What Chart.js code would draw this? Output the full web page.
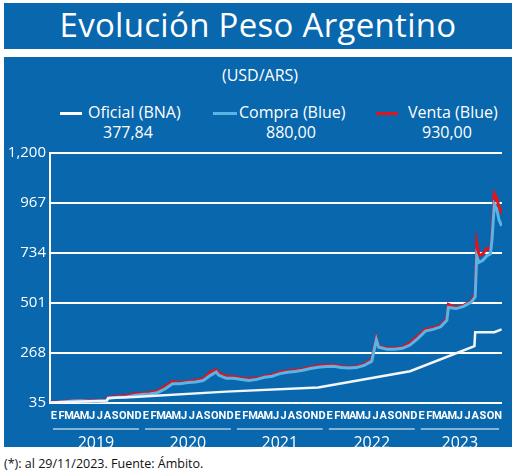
<!DOCTYPE html>
<html><head><meta charset="utf-8">
<script src="https://cdn.jsdelivr.net/npm/chart.js@4"></script>
<style>
body{margin:0;width:520px;height:475px;background:#fff;font-family:"Open Sans",sans-serif;position:relative;overflow:hidden}
#title{position:absolute;left:4px;top:3px;width:508px;height:46px;background:#0867ad;color:#fff;font-size:33px;text-align:center;line-height:44px;font-family:"Open Sans";letter-spacing:0.3px}
#panel{position:absolute;left:4px;top:57px;width:508px;height:390px;background:#0867ad}
.t{position:absolute;color:#fff;font-size:16px;white-space:nowrap}
#foot{position:absolute;left:4px;top:455px;font-size:12.5px;color:#111;font-family:"Open Sans"}
#c{position:absolute;left:4px;top:140px}
</style></head><body>
<div id="title">Evolución Peso Argentino</div>
<div id="panel"></div>
<div class="t" style="left:0;width:520px;text-align:center;top:64px">(USD/ARS)</div>
<div class="t" style="left:60px;top:101px"><span style="display:inline-block;width:22px;height:3px;background:#fff;vertical-align:middle;margin-right:6px"></span>Oficial (BNA)</div>
<div class="t" style="left:103px;top:121px">377,84</div>
<div class="t" style="left:213px;top:101px"><span style="display:inline-block;width:24px;height:3px;background:#5ab4e6;vertical-align:middle;margin-right:2px"></span>Compra (Blue)</div>
<div class="t" style="left:266px;top:121px">880,00</div>
<div class="t" style="left:376px;top:101px"><span style="display:inline-block;width:22px;height:3px;background:#e3121b;vertical-align:middle;margin-right:10px"></span>Venta (Blue)</div>
<div class="t" style="left:422px;top:121px">930,00</div>
<div id="foot">(*): al 29/11/2023. Fuente: Ámbito.</div>
<canvas id="c" width="508" height="307"></canvas>
<script>
const monthLabels=["E","F","M","A","M","J","J","A","S","O","N","D"];
const years=["2019","2020","2021","2022","2023"];
const yTicks=[35,268,501,734,967,1200];
// x = months since Jan 2019
const blueX=[0,1,2,3,4,5,6,7.4,7.6,8,9,10,11,12,13,14,15,16,17,18,19,20,21,21.7,22,23,24,25,26,27,28,29,30,31,32,33,34,35,36,37,38,39,40,41,42,42.6,42.9,43.5,44,45,46,47,48,49,50,51,51.8,52,53,54,55,55.5,55.7,56,56.5,57,57.5,57.7,58,58.3,58.6,58.95];
const compra=[37,38,41,44,45,43,43,45,55,58,62,63,70,75,77,83,100,125,125,130,133,140,165,180,165,150,150,145,140,145,155,160,172,178,182,188,196,202,205,206,200,198,200,210,230,330,295,290,285,285,290,305,335,370,378,390,420,480,475,485,505,530,720,690,700,720,730,800,960,940,890,860,880];
const venta=[38,39,43,46,47,45,45,48,60,63,67,70,77,80,84,90,112,135,130,136,140,148,180,190,175,160,158,150,148,150,160,166,178,184,188,194,202,208,212,212,205,202,205,215,240,338,300,295,290,290,295,315,345,378,385,395,430,495,480,490,510,545,780,720,730,755,750,820,1010,990,950,920,930];
const oficialX=[0,7.4,7.6,11,23,35,47,55.4,55.5,58,58.95];
const oficial=[37,46,58,63,88,107,183,300,365,365,378];
const toPts=(xs,ys)=>xs.map((x,i)=>({x,y:ys[i]}));
const labelsPlugin={id:'lbl',afterDraw(ch){
 const c=ch.ctx,xs=ch.scales.x,top=ch.chartArea.bottom;
 c.save();c.fillStyle='#fff';c.textAlign='center';c.textBaseline='middle';
 c.font='bold 11px "Liberation Sans Narrow","Roboto",sans-serif';
 for(let i=0;i<59;i++){c.fillText(monthLabels[i%12],xs.getPixelForValue(i+0.5),top+13);}
 c.font='16px "Open Sans",sans-serif';c.strokeStyle='#fff';c.lineWidth=1.2;
 years.forEach((y,k)=>{const a=xs.getPixelForValue(k*12)+3,b=xs.getPixelForValue(Math.min(k*12+12,59))-3;
  c.beginPath();c.moveTo(a,top+26);c.lineTo(b,top+26);c.stroke();
  c.fillText(y,(a+b)/2,top+40);});
 c.restore();}};
new Chart(document.getElementById('c'),{type:'line',
 data:{datasets:[
  {label:'Oficial',data:toPts(oficialX,oficial),borderColor:'#f4f6fa',borderWidth:2.5,pointRadius:0,tension:0,order:1},
  {label:'Compra',data:toPts(blueX,compra),borderColor:'#5ab4e6',borderWidth:3,pointRadius:0,order:2},
  {label:'Venta',data:toPts(blueX,venta),borderColor:'#e3121b',borderWidth:3,pointRadius:0,order:3}]},
 options:{responsive:false,animation:false,
  layout:{padding:{top:12,right:10,bottom:44,left:0}},
  plugins:{legend:{display:false},tooltip:{enabled:false}},
  scales:{
   x:{type:'linear',min:0,max:59,display:false},
   y:{min:35,max:1200,afterFit(s){s.width=46;},
     afterBuildTicks(s){s.ticks=yTicks.map(v=>({value:v}));},
     ticks:{color:'#fff',font:{size:15,family:'"Open Sans"'},padding:4},
     grid:{color:'#fff',lineWidth:2,drawTicks:false},
     border:{color:'#fff',width:2}}}},
 plugins:[labelsPlugin]});
</script></body></html>
